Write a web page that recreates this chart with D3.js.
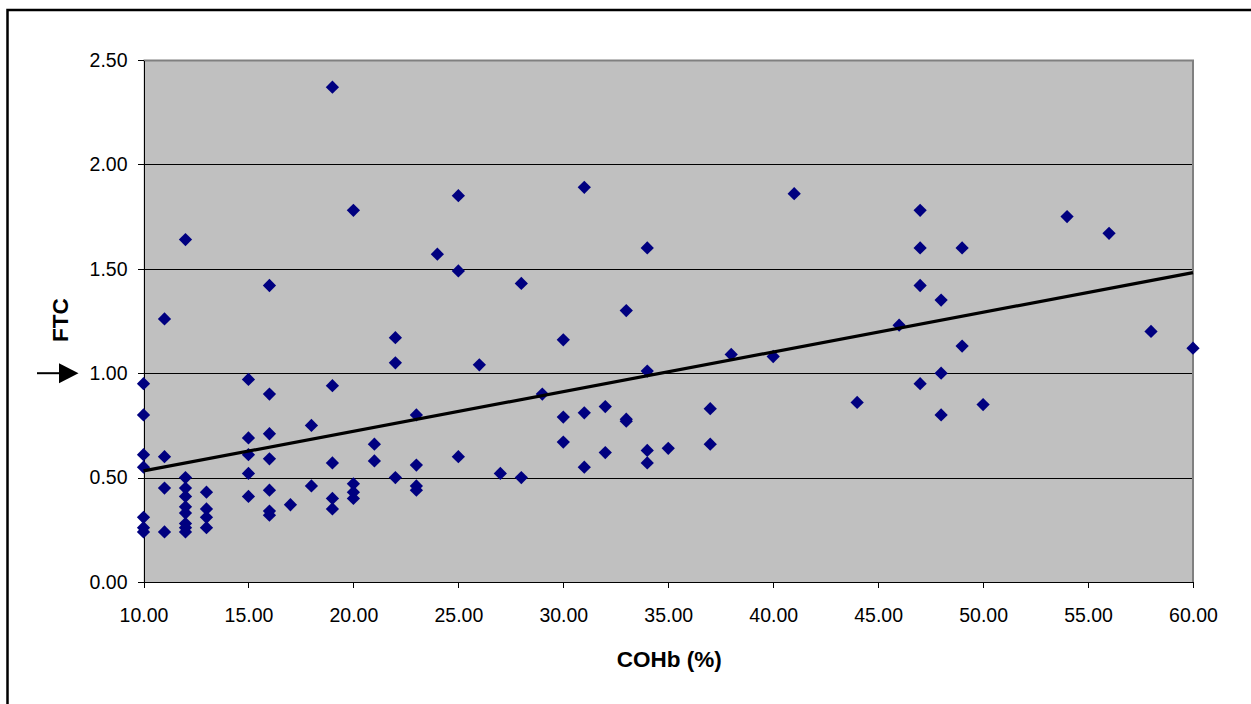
<!DOCTYPE html>
<html>
<head>
<meta charset="utf-8">
<script src="https://cdn.jsdelivr.net/npm/d3@7"></script>
<style>
  html, body { margin: 0; padding: 0; background: #fff; }
  svg { display: block; font-family: "Liberation Sans", Arial, sans-serif; }
</style>
</head>
<body>
<svg id="chart"></svg>
<script>
// COHb (%) for each sample, paired with the FTC value at the same index
const cohb = [
  10, 10, 10, 10, 10, 10, 10,
  11, 11, 11, 11,
  12, 12, 12, 12, 12, 12, 12, 12, 12,
  13, 13, 13, 13,
  15, 15, 15, 15, 15,
  16, 16, 16, 16, 16, 16, 16,
  17, 18, 18,
  19, 19, 19, 19, 19,
  20, 20, 20, 20,
  21, 21, 22, 22, 22,
  23, 23, 23, 23,
  24, 25, 25, 25, 26, 27, 28, 28, 29,
  30, 30, 30, 31, 31, 31, 32, 32,
  33, 33, 33, 34, 34, 34, 34, 35,
  37, 37, 38, 40, 41, 44, 46,
  47, 47, 47, 47, 48, 48, 48, 49, 49, 50,
  54, 56, 58, 60
];
const ftc = [
  0.95, 0.80, 0.61, 0.55, 0.31, 0.26, 0.24,
  1.26, 0.60, 0.45, 0.24,
  1.64, 0.50, 0.45, 0.41, 0.36, 0.33, 0.28, 0.26, 0.24,
  0.43, 0.35, 0.31, 0.26,
  0.97, 0.69, 0.61, 0.52, 0.41,
  1.42, 0.90, 0.71, 0.59, 0.44, 0.34, 0.32,
  0.37, 0.75, 0.46,
  2.37, 0.94, 0.57, 0.40, 0.35,
  1.78, 0.47, 0.43, 0.40,
  0.66, 0.58, 1.17, 1.05, 0.50,
  0.80, 0.56, 0.46, 0.44,
  1.57, 1.85, 1.49, 0.60, 1.04, 0.52, 1.43, 0.50, 0.90,
  1.16, 0.79, 0.67, 1.89, 0.81, 0.55, 0.84, 0.62,
  1.30, 0.78, 0.77, 1.60, 1.01, 0.63, 0.57, 0.64,
  0.83, 0.66, 1.09, 1.08, 1.86, 0.86, 1.23,
  1.78, 1.60, 1.42, 0.95, 1.35, 1.00, 0.80, 1.60, 1.13, 0.85,
  1.75, 1.67, 1.20, 1.12
];
// linear trendline end points
const trendX = [10, 60];
const trendY = [0.532, 1.482];

const xTicks = [10, 15, 20, 25, 30, 35, 40, 45, 50, 55, 60];
const yTicks = [0, 0.5, 1.0, 1.5, 2.0, 2.5];
const xLabel = "COHb (%)";
const yLabel = "FTC";
const markedValue = 1.0;   // the arrow points at this FTC level

const W = 1251, H = 704;
const margin = {top: 60, right: 58, bottom: 122, left: 143.5};
const width = W - margin.left - margin.right;
const height = H - margin.top - margin.bottom;

const root = d3.select("#chart").attr("width", W).attr("height", H);

// outer frame (only left and top edges fall inside the picture)
root.append("rect")
    .attr("x", 7.5).attr("y", 10)
    .attr("width", W + 20).attr("height", H + 20)
    .attr("fill", "none")
    .attr("stroke", "#000")
    .attr("stroke-width", 2.5);

const svg = root.append("g")
    .attr("transform", `translate(${margin.left},${margin.top})`);

const x = d3.scaleLinear().domain([10, 60]).range([0, width]);
const y = d3.scaleLinear().domain([0, 2.5]).range([height, 0]);

// plot area
svg.append("rect")
    .attr("width", width).attr("height", height)
    .attr("fill", "#c0c0c0");

// gridlines
svg.append("g")
    .attr("class", "grid")
    .call(d3.axisLeft(y).tickValues(yTicks.filter(d => d > 0 && d < 2.5)).tickSize(-width).tickFormat(""))
    .call(g => g.select(".domain").remove())
    .call(g => g.selectAll("line")
        .attr("stroke", "#000").attr("stroke-width", 1)
        .attr("shape-rendering", "crispEdges"));

// plot area border top and right (gray)
svg.append("path")
    .attr("d", `M0,0.5H${width}V${height}`)
    .attr("fill", "none")
    .attr("stroke", "#808080")
    .attr("stroke-width", 2);

// axes
const fmt = d3.format(".2f");
svg.append("g")
    .call(d3.axisLeft(y).tickValues(yTicks).tickSize(6).tickSizeOuter(0).tickPadding(10).tickFormat(fmt))
    .call(g => g.selectAll("text").style("font-size", "19.5px").attr("fill", "#000"))
    .call(g => g.selectAll("line, path").attr("stroke", "#000").attr("shape-rendering", "crispEdges"));

svg.append("g")
    .attr("transform", `translate(0,${height})`)
    .call(d3.axisBottom(x).tickValues(xTicks).tickSize(6).tickSizeOuter(0).tickPadding(20).tickFormat(fmt))
    .call(g => g.selectAll("text").style("font-size", "19.5px").attr("fill", "#000"))
    .call(g => g.selectAll("line, path").attr("stroke", "#000").attr("shape-rendering", "crispEdges"));

// points
const diamond = d3.symbol().type(d3.symbolSquare).size(88);
svg.append("g")
    .selectAll("path")
    .data(cohb.map((c, i) => [c, ftc[i]]))
    .join("path")
    .attr("d", diamond)
    .attr("transform", d => `translate(${x(d[0])},${y(d[1])}) rotate(45)`)
    .attr("fill", "#000080");

// trendline
svg.append("path")
    .datum(trendX.map((v, i) => [v, trendY[i]]))
    .attr("d", d3.line().x(d => x(d[0])).y(d => y(d[1])))
    .attr("stroke", "#000")
    .attr("stroke-width", 3.2)
    .attr("fill", "none");

// axis titles
svg.append("text")
    .attr("x", width / 2 + 1)
    .attr("y", height + 85)
    .attr("text-anchor", "middle")
    .style("font-size", "22.5px")
    .style("font-weight", "bold")
    .text(xLabel);

svg.append("text")
    .attr("transform", `translate(${67.5 - margin.left},${320 - margin.top}) rotate(-90)`)
    .attr("text-anchor", "middle")
    .style("font-size", "22.5px")
    .style("font-weight", "bold")
    .text(yLabel);

// arrow pointing at the 1.00 level
const ay = y(markedValue);
svg.append("line")
    .attr("x1", 37 - margin.left).attr("x2", 62 - margin.left)
    .attr("y1", ay).attr("y2", ay)
    .attr("stroke", "#000").attr("stroke-width", 2);
svg.append("path")
    .attr("d", `M${59 - margin.left},${ay - 10}L${78.5 - margin.left},${ay}L${59 - margin.left},${ay + 10}Z`)
    .attr("fill", "#000");
</script>
</body>
</html>
